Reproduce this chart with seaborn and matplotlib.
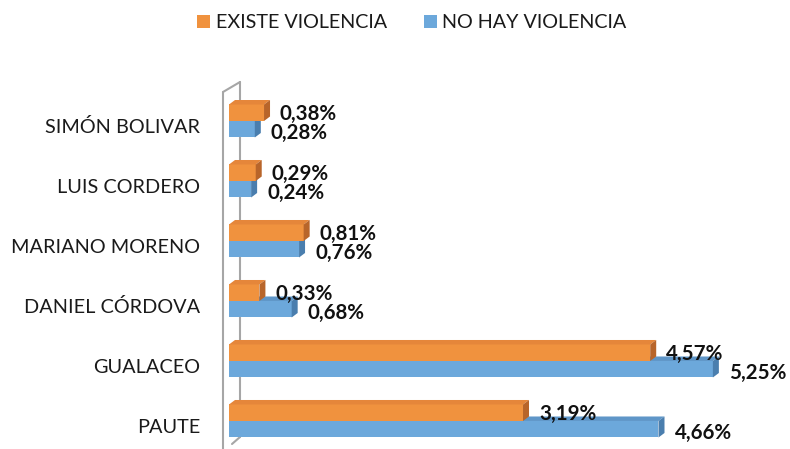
import matplotlib
matplotlib.use("Agg")
import matplotlib.pyplot as plt
from matplotlib.patches import Polygon
from matplotlib.lines import Line2D
from matplotlib.transforms import ScaledTranslation
import seaborn as sns
import pandas as pd

# Parroquias y porcentajes por serie
categorias = ["SIMÓN BOLIVAR", "LUIS CORDERO", "MARIANO MORENO",
              "DANIEL CÓRDOVA", "GUALACEO", "PAUTE"]
series = ["EXISTE VIOLENCIA", "NO HAY VIOLENCIA"]
existe = [0.38, 0.29, 0.81, 0.33, 4.57, 3.19]
no_hay = [0.28, 0.24, 0.76, 0.68, 5.25, 4.66]

df = pd.DataFrame({
    "zona": categorias * 2,
    "serie": [series[0]] * len(categorias) + [series[1]] * len(categorias),
    "pct": existe + no_hay,
})

sns.set_theme(style="white")
plt.rcParams["font.family"] = ["Lato", "DejaVu Sans"]

W, H, DPI = 790, 449, 100
fig = plt.figure(figsize=(W / DPI, H / DPI), dpi=DPI)

# axes frame in pixels
left_px, right_px, top_px, bot_px = 229, 782, 82, 449
ax = fig.add_axes([left_px / W, 1 - bot_px / H,
                   (right_px - left_px) / W, (bot_px - top_px) / H])

front = {series[0]: "#F0923E", series[1]: "#6CA8DB"}
top_c = {series[0]: "#E5863A", series[1]: "#5F96C8"}
side_c = {series[0]: "#B8652A", series[1]: "#4A7EAE"}

sns.barplot(data=df, y="zona", x="pct", hue="serie", order=categorias,
            hue_order=series, palette=front, orient="h", width=0.55,
            saturation=1, linewidth=0, ax=ax)

xmax = 6.0
ax.set_xlim(0, xmax)
ax.set_ylim(5.467, -0.65)

# depth of the pseudo-3D faces, in data units
px_x = (right_px - left_px) / xmax
px_y = (bot_px - top_px) / (5.467 + 0.65)
dx = 6 / px_x
dy = 4.5 / px_y

# vertical nudge of the value labels (points)
label_dy = {series[0]: -0.8, series[1]: -3.0}

# NO HAY (back) first, EXISTE drawn above it
order = [(1, 2.0), (0, 3.0)]
for idx, z in order:
    cont = ax.containers[idx]
    name = series[idx]
    for rect in cont:
        rect.set_zorder(z)
        x0 = rect.get_x()
        x1 = x0 + rect.get_width()
        yt = rect.get_y()
        yb = yt + rect.get_height()
        top = Polygon([(x0, yt), (x1, yt), (x1 + dx, yt - dy), (x0 + dx, yt - dy)],
                      closed=True, facecolor=top_c[name], edgecolor="none",
                      zorder=z + 0.1)
        side = Polygon([(x1, yt), (x1, yb), (x1 + dx, yb - dy), (x1 + dx, yt - dy)],
                       closed=True, facecolor=side_c[name], edgecolor="none",
                       zorder=z + 0.2)
        ax.add_patch(top)
        ax.add_patch(side)
        ax.annotate(f"{rect.get_width():.2f}%".replace(".", ","),
                    xy=(x1, (yt + yb) / 2), xytext=(11.5, label_dy[name]),
                    textcoords="offset points", ha="left", va="center",
                    fontsize=14.8, fontweight="bold", color="#111111",
                    zorder=5, annotation_clip=False)

# side wall of the 3D frame
wall = dict(color="#A6A6A6", lw=1.5, transform=ax.transAxes, clip_on=False, zorder=1)
fx = (223 - left_px) / (right_px - left_px)
bx = (240 - left_px) / (right_px - left_px)
fy_top = 1 - (92 - top_px) / (bot_px - top_px)
by_bot = 1 - (437 - top_px) / (bot_px - top_px)
ax.add_line(Line2D([fx, fx], [0, fy_top], **wall))
ax.add_line(Line2D([fx, bx], [fy_top, 1.0], **wall))
ax.add_line(Line2D([bx, bx], [1.0, by_bot], **wall))
ax.add_line(Line2D([bx, (232 - left_px) / (right_px - left_px)],
                   [by_bot, 1 - (444 - top_px) / (bot_px - top_px)], **wall))

for s in ax.spines.values():
    s.set_visible(False)
ax.set_xticks([])
ax.set_xlabel("")
ax.set_ylabel("")
ax.tick_params(axis="y", length=0, pad=20.9, labelsize=14.3, labelcolor="#1A1A1A")
shift = ScaledTranslation(0, -5 / DPI, fig.dpi_scale_trans)
for lab in ax.get_yticklabels():
    lab.set_transform(lab.get_transform() + shift)

sns.move_legend(ax, "center", bbox_to_anchor=(412 / W, 1 - 23 / H),
                bbox_transform=fig.transFigure, ncol=2, frameon=False,
                title=None, fontsize=14.2, handlelength=0.65, handleheight=0.65,
                handletextpad=0.3, columnspacing=1.85)
for t in ax.get_legend().get_texts():
    t.set_color("#1A1A1A")

fig.savefig("out.png", dpi=DPI)
